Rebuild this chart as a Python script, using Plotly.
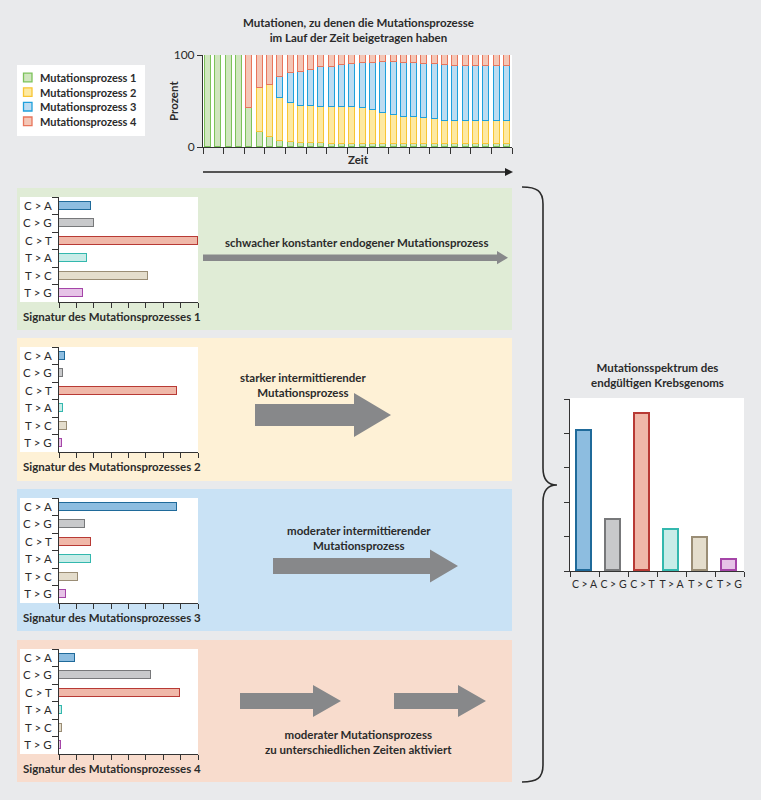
import plotly.graph_objects as go

W, H = 761, 800

# ---------------- data ----------------
time_steps = [str(i) for i in range(1, 31)]
process_names = ["Mutationsprozess 1", "Mutationsprozess 2", "Mutationsprozess 3", "Mutationsprozess 4"]
proc1 = [100, 100, 100, 100, 42, 16, 11, 6, 5, 4, 4, 4, 3, 3, 3, 3, 3, 3, 3, 3, 3, 3, 3, 3, 3, 3, 3, 3, 3, 3]
proc2 = [None, None, None, None, None, 48, 56, 47, 43, 41, 41, 40, 41, 41, 41, 39, 37, 34, 32, 30, 30, 28, 27, 25, 25, 25, 25, 25, 25, 25]
proc3 = [None, None, None, None, None, None, None, 23, 32, 37, 39, 43, 43, 45, 46, 49, 51, 55, 57, 58, 58, 59, 60, 61, 60, 60, 60, 60, 60, 60]
proc4 = [None, None, None, None, 58, 36, 33, 24, 20, 18, 16, 13, 13, 11, 10, 9, 9, 8, 8, 9, 9, 10, 10, 11, 12, 12, 12, 12, 12, 12]

mut_types = ["C > A", "C > G", "C > T", "T > A", "T > C", "T > G"]
sig1 = [1.82, 2.0, 8.0, 1.59, 5.13, 1.4]
sig2 = [0.36, 0.23, 6.81, 0.25, 0.44, 0.19]
sig3 = [6.81, 1.47, 1.82, 1.86, 1.07, 0.38]
sig4 = [0.92, 5.3, 6.95, 0.17, 0.17, 0.13]
spectrum = [4.08, 1.49, 4.56, 1.18, 0.95, 0.32]

panel_texts = [
    "schwacher konstanter endogener Mutationsprozess",
    "starker intermittierender<br>Mutationsprozess",
    "moderater intermittierender<br>Mutationsprozess",
    "moderater Mutationsprozess<br>zu unterschiedlichen Zeiten aktiviert",
]
signature_titles = ["Signatur des Mutationsprozesses %d" % i for i in range(1, 5)]

# ---------------- styles ----------------
proc_fill = ["#d0e6bf", "#fde9a2", "#bedcf1", "#f4c7b7"]
proc_line = ["#7cc25a", "#f8c534", "#1fa0dc", "#e8765c"]
mut_fill = ["#8dbde0", "#c8c9cb", "#f0b8a9", "#c8ece8", "#e4ddcc", "#e6c3e7"]
mut_line = ["#1f6a9a", "#77787a", "#b83a35", "#33b8ae", "#9a8d75", "#a545a8"]
panel_bg = ["#e0ecd6", "#fef1d6", "#c9e2f5", "#f8dccd"]
BG = "#e9eaec"
TXT = "#2b2b2b"
REG = "Lato, 'Open Sans', sans-serif"
BOLD = "Lato, 'Open Sans', sans-serif"
ARROW = "#87888a"


def X(p):
    return p / W


def Y(p):
    return 1 - p / H


def poly(points):
    s = "M " + " L ".join("%.5f,%.5f" % (X(a), Y(b)) for a, b in points) + " Z"
    return s


fig = go.Figure()
shapes = []
annotations = []

# background panels + white plot boxes
panel_y = [(188, 330), (338, 481), (489, 631), (640, 782)]
offsets = [0, 150, 301, 452]
for (y0, y1), c in zip(panel_y, panel_bg):
    shapes.append(dict(type="rect", xref="paper", yref="paper", x0=X(17), x1=X(512), y0=Y(y1), y1=Y(y0),
                       fillcolor=c, line=dict(width=0), layer="below"))
for off in offsets:
    shapes.append(dict(type="rect", xref="paper", yref="paper", x0=X(20), x1=X(198), y0=Y(302 + off), y1=Y(197 + off),
                       fillcolor="white", line=dict(width=0), layer="below"))
# top chart white area
shapes.append(dict(type="rect", xref="paper", yref="paper", x0=X(203), x1=X(512), y0=Y(147), y1=Y(55),
                   fillcolor="white", line=dict(width=0), layer="below"))
# right chart white area
shapes.append(dict(type="rect", xref="paper", yref="paper", x0=X(570), x1=X(744), y0=Y(571), y1=Y(398),
                   fillcolor="white", line=dict(width=0), layer="below"))
# legend box
shapes.append(dict(type="rect", xref="paper", yref="paper", x0=X(17), x1=X(145), y0=Y(136), y1=Y(65),
                   fillcolor="white", line=dict(width=0), layer="below"))
for i, name in enumerate(process_names):
    yc = 77.5 + i * 14.6
    shapes.append(dict(type="rect", xref="paper", yref="paper", x0=X(23.5), x1=X(32), y0=Y(yc + 4.3), y1=Y(yc - 4.3),
                       fillcolor=proc_fill[i], line=dict(width=1.3, color=proc_line[i]), layer="above"))
    annotations.append(dict(xref="paper", yref="paper", x=X(37.5), y=Y(yc), text="<b>%s</b>" % name, showarrow=False,
                            xanchor="left", yanchor="middle", font=dict(family=BOLD, size=11, color=TXT)))

# ---------------- top stacked chart ----------------
for i, vals in enumerate([proc1, proc2, proc3, proc4]):
    fig.add_trace(go.Bar(x=time_steps, y=vals, width=0.58, name=process_names[i], showlegend=False,
                         marker=dict(color=proc_fill[i], line=dict(color=proc_line[i], width=1.4)),
                         xaxis="x", yaxis="y"))

# ---------------- signature charts ----------------
for k, sig in enumerate([sig1, sig2, sig3, sig4]):
    n = k + 2
    fig.add_trace(go.Bar(y=mut_types, x=sig, orientation="h", width=0.47, showlegend=False,
                         marker=dict(color=mut_fill, line=dict(color=mut_line, width=1.4)),
                         xaxis="x%d" % n, yaxis="y%d" % n))

# ---------------- final spectrum ----------------
fig.add_trace(go.Bar(x=mut_types, y=spectrum, width=0.52, showlegend=False,
                     marker=dict(color=mut_fill, line=dict(color=mut_line, width=1.6)),
                     xaxis="x6", yaxis="y6"))

axis_common = dict(showline=True, linecolor="#333333", linewidth=1, showgrid=False, zeroline=False,
                   ticks="outside", tickcolor="#333333", ticklen=5, tickwidth=1, automargin=False)

layout = dict(
    width=W, height=H, margin=dict(l=0, r=0, t=0, b=0, pad=0, autoexpand=False),
    paper_bgcolor=BG, plot_bgcolor="rgba(0,0,0,0)", barmode="stack", bargap=0,
    showlegend=False,
    font=dict(family=REG, size=12, color=TXT),
    xaxis=dict(axis_common, domain=[X(203), X(512)], anchor="y", type="category", tickson="boundaries",
               showticklabels=False, range=[-0.5, 29.5], ticklen=6),
    yaxis=dict(axis_common, domain=[Y(147), Y(55)], anchor="x", range=[0, 100], tickvals=[0, 100],
               tickfont=dict(family=REG, size=12, color=TXT)),
)
for k, off in enumerate(offsets):
    n = k + 2
    layout["xaxis%d" % n] = dict(axis_common, domain=[X(59), X(198)], anchor="y%d" % n, range=[0, 8],
                                 tickvals=list(range(9)), showticklabels=False)
    layout["yaxis%d" % n] = dict(axis_common, domain=[Y(302 + off), Y(197 + off)], anchor="x%d" % n,
                                 type="category", tickson="boundaries", autorange="reversed", ticklen=6,
                                 ticklabelstandoff=4,
                                 tickfont=dict(family=REG, size=11.5, color=TXT))
    annotations.append(dict(xref="paper", yref="paper", x=X(112), y=Y(316 + off), text="<b>%s</b>" % signature_titles[k],
                            showarrow=False, xanchor="center", yanchor="middle",
                            font=dict(family=BOLD, size=11.5, color=TXT)))

layout["xaxis6"] = dict(axis_common, domain=[X(570), X(744)], anchor="y6", type="category", tickson="boundaries",
                        tickangle=0, ticklabelstandoff=3, tickfont=dict(family=REG, size=10.5, color=TXT))
layout["yaxis6"] = dict(axis_common, domain=[Y(571), Y(399)], anchor="x6", range=[0, 5],
                        tickvals=[0, 1, 2, 3, 4, 5], showticklabels=False)

# ---------------- text ----------------
annotations += [
    dict(x=X(358), y=Y(30), text="<b>Mutationen, zu denen die Mutationsprozesse<br>im Lauf der Zeit beigetragen haben</b>",
         font=dict(family=BOLD, size=11.5, color=TXT)),
    dict(x=X(174), y=Y(101), text="<b>Prozent</b>", textangle=-90, font=dict(family=BOLD, size=11.5, color=TXT)),
    dict(x=X(358), y=Y(160), text="<b>Zeit</b>", font=dict(family=BOLD, size=11.5, color=TXT)),
    dict(x=X(356), y=Y(242), text="<b>%s</b>" % panel_texts[0], font=dict(family=BOLD, size=11.5, color=TXT)),
    dict(x=X(303), y=Y(385), text="<b>%s</b>" % panel_texts[1], font=dict(family=BOLD, size=11.5, color=TXT)),
    dict(x=X(359), y=Y(538), text="<b>%s</b>" % panel_texts[2], font=dict(family=BOLD, size=11.5, color=TXT)),
    dict(x=X(358), y=Y(742), text="<b>%s</b>" % panel_texts[3], font=dict(family=BOLD, size=11.5, color=TXT)),
    dict(x=X(657), y=Y(375), text="<b>Mutationsspektrum des<br>endgültigen Krebsgenoms</b>",
         font=dict(family=BOLD, size=11.5, color=TXT)),
]
for a in annotations:
    a.setdefault("xref", "paper")
    a.setdefault("yref", "paper")
    a.setdefault("showarrow", False)
    a.setdefault("xanchor", "center")
    a.setdefault("yanchor", "middle")

# ---------------- arrows ----------------
def block_arrow(x0, x_head, x_tip, yc, shaft_half, head_half):
    return poly([(x0, yc - shaft_half), (x_head, yc - shaft_half), (x_head, yc - head_half), (x_tip, yc),
                 (x_head, yc + head_half), (x_head, yc + shaft_half), (x0, yc + shaft_half)])

arrow_paths = [
    block_arrow(203, 497, 508, 257.7, 3.3, 6.6),
    block_arrow(255, 354, 391, 415, 11, 22),
    block_arrow(273, 430, 458, 566, 8, 16.5),
    block_arrow(240, 313, 341, 701, 8, 16),
    block_arrow(394, 458, 486, 701, 8, 16),
]
for p in arrow_paths:
    shapes.append(dict(type="path", xref="paper", yref="paper", path=p, fillcolor=ARROW, line=dict(width=0)))

# time arrow below top chart
shapes.append(dict(type="line", xref="paper", yref="paper", x0=X(203), x1=X(506), y0=Y(172), y1=Y(172),
                   line=dict(color="#222222", width=1.5)))
shapes.append(dict(type="path", xref="paper", yref="paper", path=poly([(505, 168), (513, 172), (505, 176)]),
                   fillcolor="#222222", line=dict(width=0)))

# curly brace
def pt(a, b):
    return "%.5f,%.5f" % (X(a), Y(b))

brace = ("M " + pt(522, 187) + " C " + pt(537, 187) + " " + pt(543, 191) + " " + pt(543, 204) +
         " L " + pt(543, 468) + " C " + pt(543, 479) + " " + pt(548, 485) + " " + pt(557, 485) +
         " C " + pt(548, 485) + " " + pt(543, 491) + " " + pt(543, 502) +
         " L " + pt(543, 765) + " C " + pt(543, 778) + " " + pt(537, 782) + " " + pt(522, 782))
shapes.append(dict(type="path", xref="paper", yref="paper", path=brace, line=dict(color="#2b2b2b", width=1.6)))

layout["shapes"] = shapes
layout["annotations"] = annotations
fig.update_layout(layout)

post = ("document.documentElement.style.margin='0';document.body.style.margin='0';"
        "document.body.style.padding='0';document.body.style.overflow='hidden';"
        "var gd=document.getElementById('{plot_id}');gd.style.position='absolute';"
        "gd.style.top='0px';gd.style.left='0px';")
fig.write_html("out.html", config={"displayModeBar": False}, post_script=post)
